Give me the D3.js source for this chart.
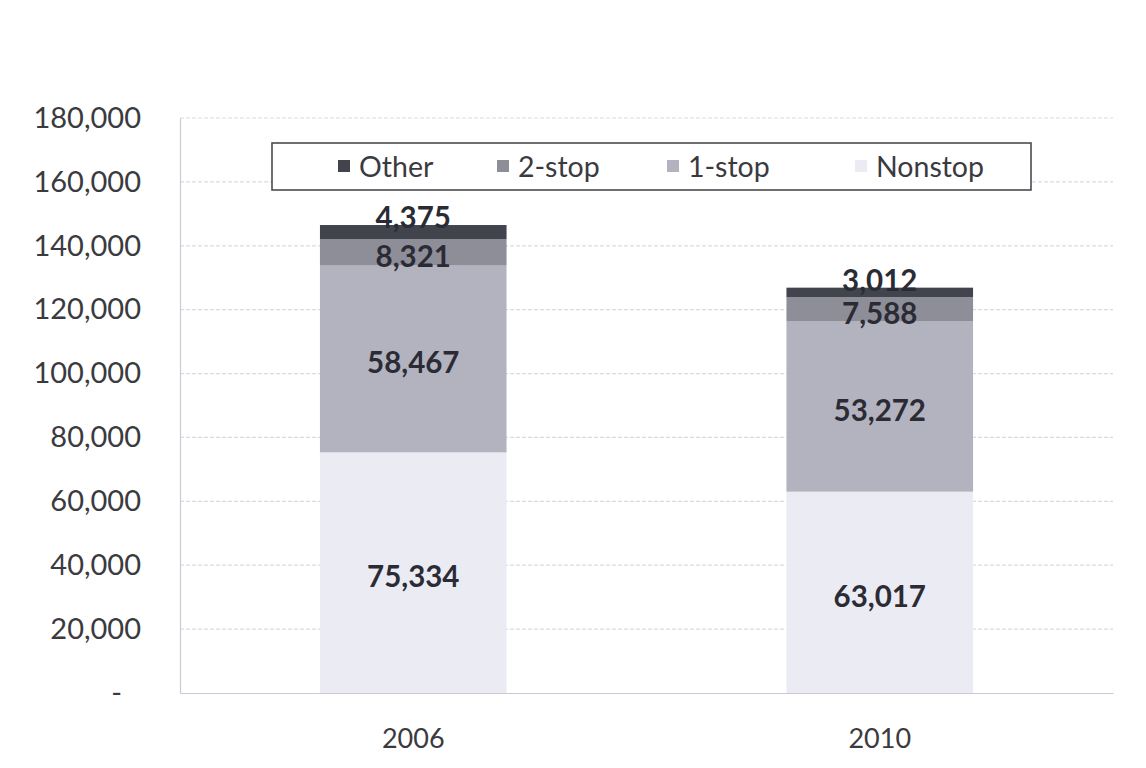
<!DOCTYPE html>
<html>
<head>
<meta charset="utf-8">
<script src="https://cdn.jsdelivr.net/npm/d3@7"></script>
<style>
  html, body { margin: 0; padding: 0; background: #ffffff; }
  svg { display: block; }
  text { font-family: Lato, "Open Sans", sans-serif; }
</style>
</head>
<body>
<svg id="chart" width="1146" height="768"></svg>
<script>
// Itineraries by routing type, 2006 vs 2010
const years = ["2006", "2010"];
const seriesNames = ["Nonstop", "1-stop", "2-stop", "Other"];
const nonstop = [75334, 63017];
const oneStop = [58467, 53272];
const twoStop = [8321, 7588];
const other = [4375, 3012];
const yTicks = [0, 20000, 40000, 60000, 80000, 100000, 120000, 140000, 160000, 180000];
const legendOrder = ["Other", "2-stop", "1-stop", "Nonstop"];

const colors = {
  "Nonstop": "#ebebf4",
  "1-stop": "#b3b3bf",
  "2-stop": "#8e8e98",
  "Other": "#42444d"
};

const rows = years.map((y, i) => ({
  year: y,
  "Nonstop": nonstop[i],
  "1-stop": oneStop[i],
  "2-stop": twoStop[i],
  "Other": other[i]
}));

const svg = d3.select("#chart");
const margin = { left: 180, right: 33, top: 118, bottom: 75 };
const W = 1146, H = 768;
const plotW = W - margin.left - margin.right;
const plotH = H - margin.top - margin.bottom;

const g = svg.append("g").attr("transform", `translate(${margin.left},${margin.top})`);

const x = d3.scaleBand().domain(years).range([0, plotW]).padding(0);
const barW = x.bandwidth() * 0.4;
const y = d3.scaleLinear().domain([0, 180000]).range([plotH, 0]);

// Horizontal gridlines
g.append("g")
  .selectAll("line")
  .data(yTicks.filter(d => d > 0))
  .join("line")
  .attr("x1", 0).attr("x2", plotW)
  .attr("y1", d => y(d)).attr("y2", d => y(d))
  .attr("stroke", "#dadae6")
  .attr("stroke-width", 1.2)
  .attr("stroke-dasharray", "4,2");

// Y axis
const yAxis = g.append("g")
  .call(d3.axisLeft(y).tickValues(yTicks).tickSize(0).tickPadding(39)
    .tickFormat(d => d === 0 ? "-" : d3.format(",")(d)));
yAxis.select(".domain").attr("stroke", "#c9c9d8").attr("stroke-width", 1.2);
yAxis.selectAll("text")
  .attr("font-size", 29)
  .attr("fill", "#3a3a3f")
  .attr("dx", d => d === 0 ? -19 : 0);

// X axis
const xAxis = g.append("g")
  .attr("transform", `translate(0,${plotH})`)
  .call(d3.axisBottom(x).tickSize(0).tickPadding(36));
xAxis.select(".domain").attr("stroke", "#c9c9d8").attr("stroke-width", 1.2);
xAxis.selectAll("text")
  .attr("font-size", 27)
  .attr("fill", "#3a3a3f");

// Stacked bars
const stack = d3.stack().keys(seriesNames);
const layers = stack(rows);

const layerG = g.append("g")
  .selectAll("g")
  .data(layers)
  .join("g")
  .attr("fill", d => colors[d.key]);

layerG.selectAll("rect")
  .data(d => d.map(s => ({ key: d.key, s })))
  .join("rect")
  .attr("x", d => x(d.s.data.year) + (x.bandwidth() - barW) / 2)
  .attr("width", barW)
  .attr("y", d => y(d.s[1]))
  .attr("height", d => y(d.s[0]) - y(d.s[1]));

// Value labels
const labelG = g.append("g");
layers.forEach(layer => {
  layer.forEach(s => {
    const v = s[1] - s[0];
    const cx = x(s.data.year) + x.bandwidth() / 2;
    const isTop = layer.key === "Other";
    const ty = isTop ? y(s[1]) + 3 : (y(s[0]) + y(s[1])) / 2 + 4;
    labelG.append("text")
      .attr("x", cx)
      .attr("y", ty)
      .attr("dy", isTop ? "0" : "0.35em")
      .attr("text-anchor", "middle")
      .attr("font-size", 29.5)
      .attr("font-weight", "bold")
      .attr("fill", "#2b2b35")
      .text(d3.format(",")(v));
  });
});

// Legend
const legend = svg.append("g").attr("transform", "translate(272,143)");
legend.append("rect")
  .attr("width", 759).attr("height", 47)
  .attr("fill", "#ffffff")
  .attr("stroke", "#4a4a50")
  .attr("stroke-width", 1.6);

const legendX = [66, 225, 395, 583];
legendOrder.forEach((name, i) => {
  const item = legend.append("g").attr("transform", `translate(${legendX[i]},0)`);
  item.append("rect")
    .attr("x", 0).attr("y", 17)
    .attr("width", 12).attr("height", 12)
    .attr("fill", colors[name]);
  item.append("text")
    .attr("x", 21).attr("y", 24)
    .attr("dy", "0.35em")
    .attr("font-size", 28.5)
    .attr("fill", "#3a3a3f")
    .text(name);
});
</script>
</body>
</html>
